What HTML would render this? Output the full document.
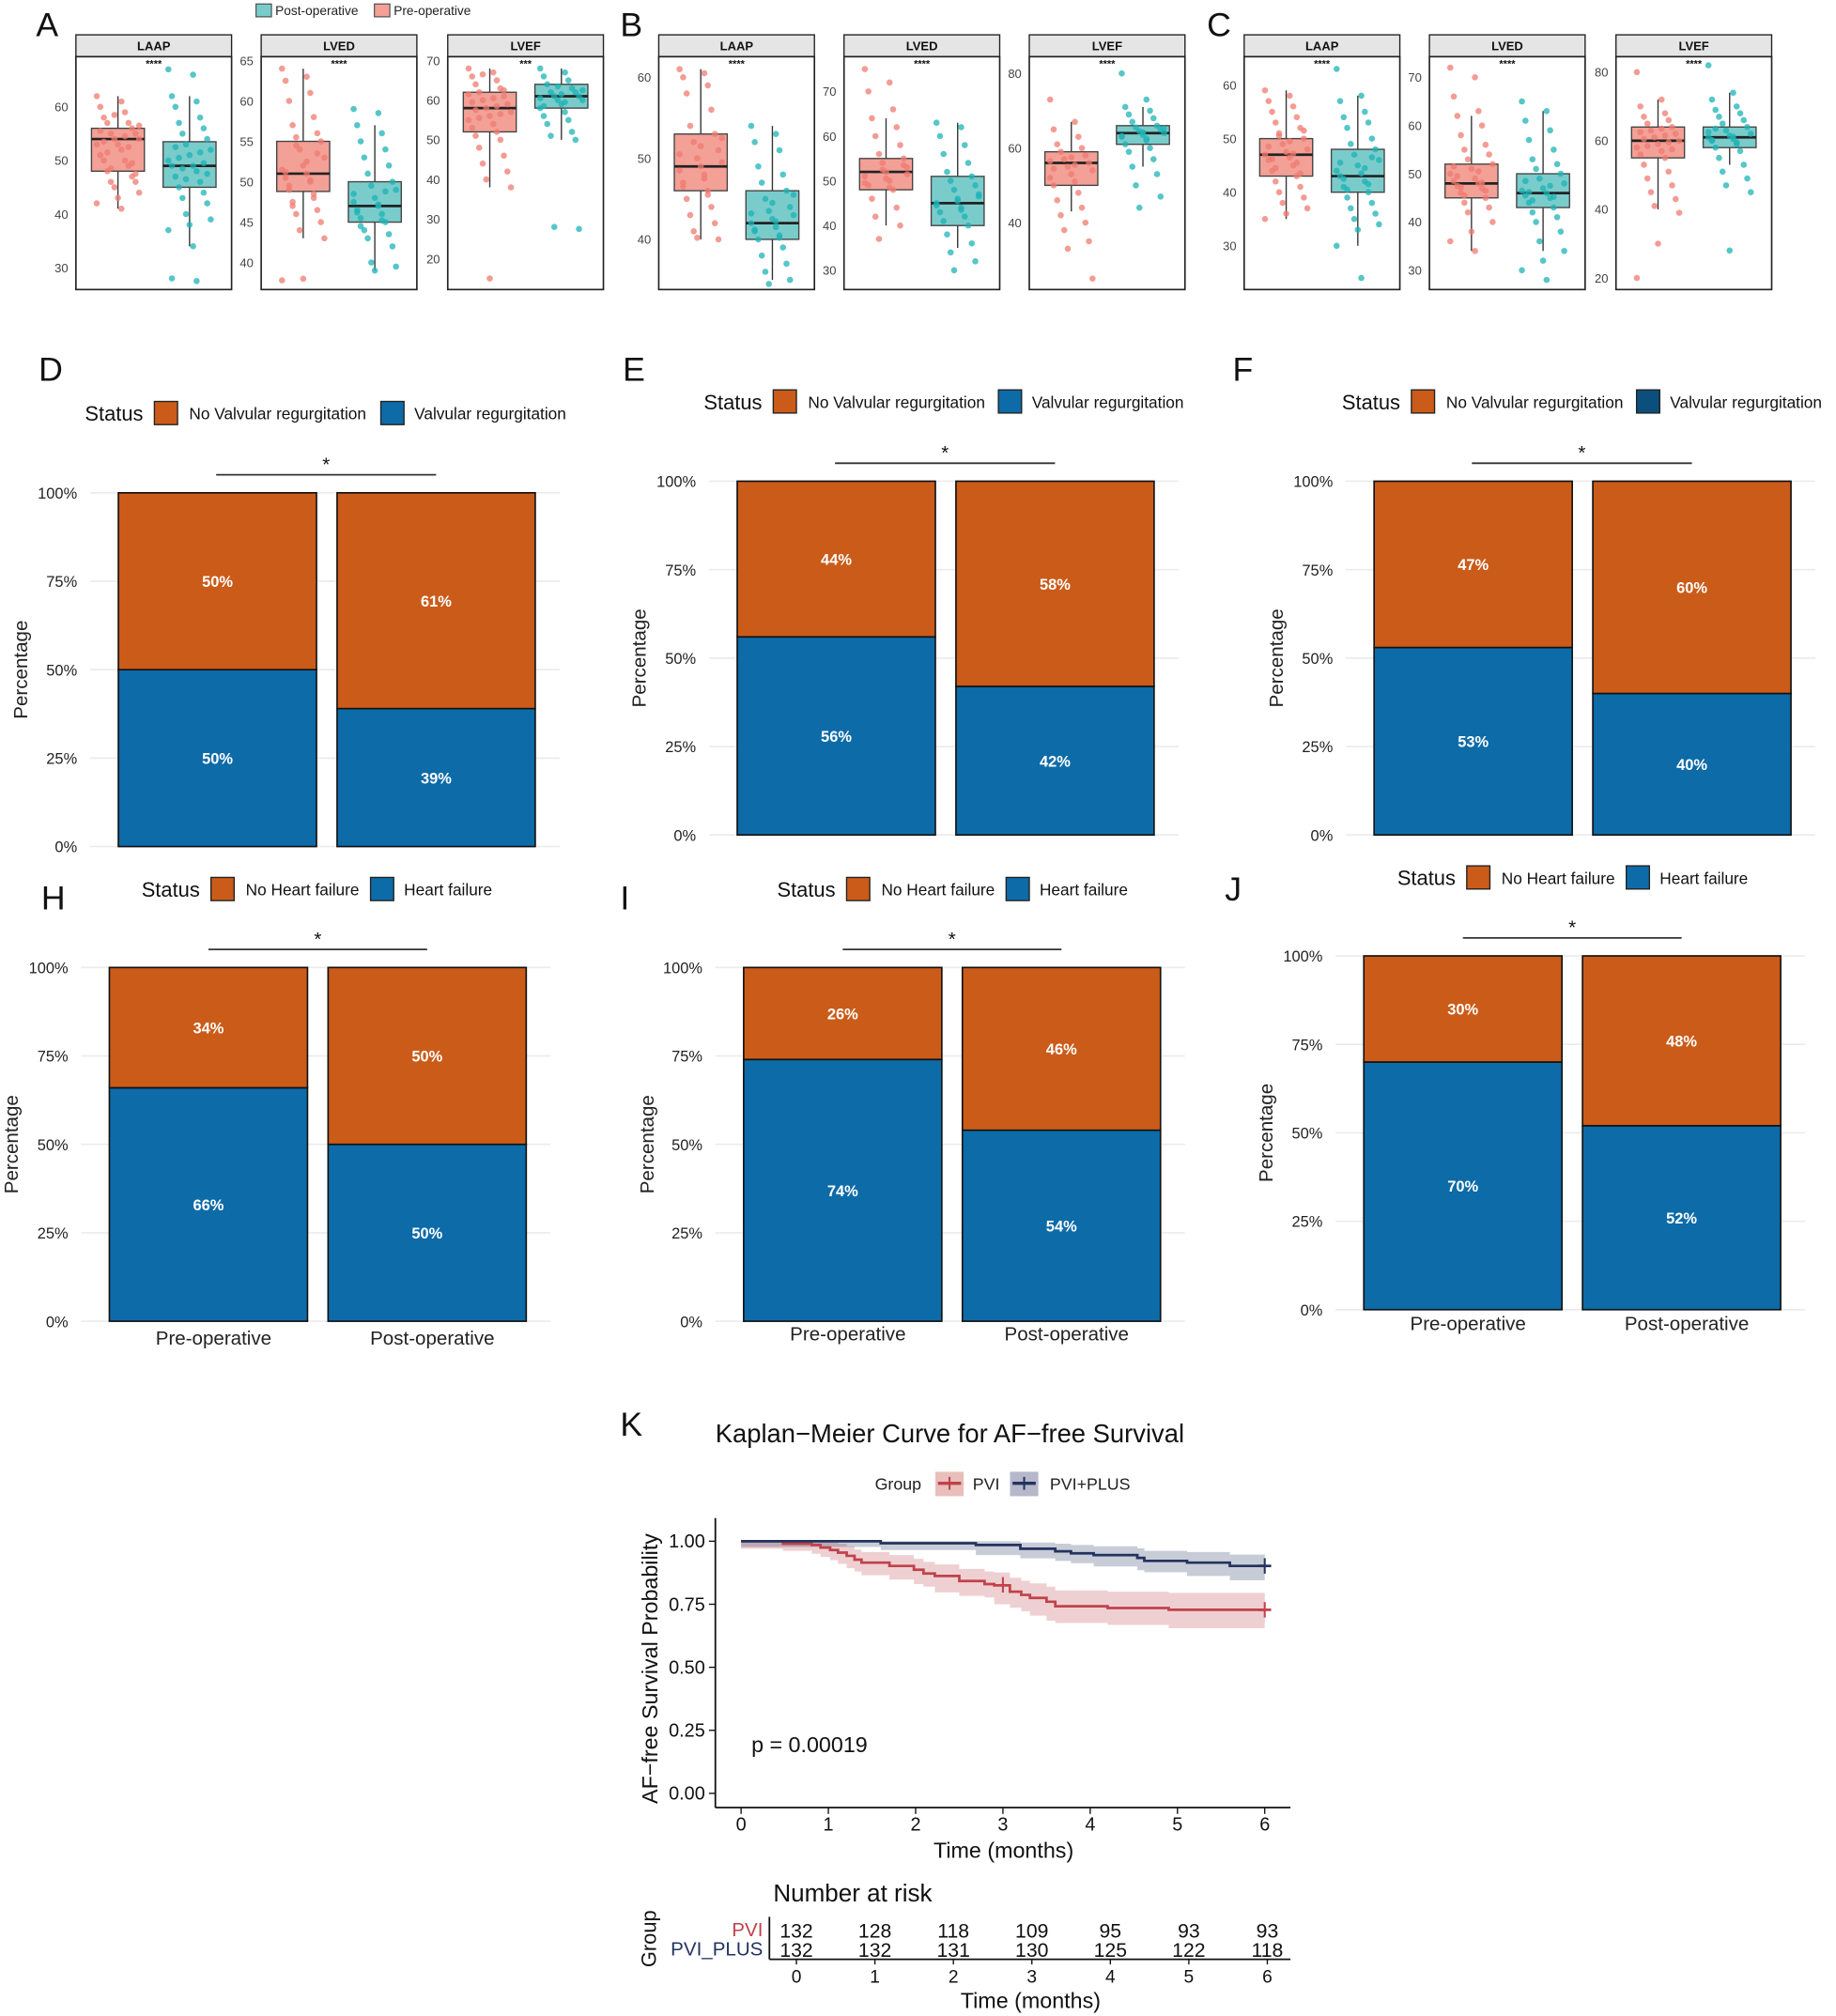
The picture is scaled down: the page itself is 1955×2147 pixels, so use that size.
<!DOCTYPE html>
<html><head><meta charset="utf-8"><style>
html,body{margin:0;padding:0;background:#fff}
svg{display:block;font-family:"Liberation Sans",Arial,sans-serif}
</style></head><body>
<svg id="fig" xmlns="http://www.w3.org/2000/svg" width="1955" height="2147" viewBox="0 0 1427 1567">
<g id="lbls" font-size="26" fill="#111">
<text x="28" y="28">A</text>
<text x="482" y="28">B</text>
<text x="938" y="28">C</text>
<text x="30" y="296">D</text>
<text x="484" y="296">E</text>
<text x="958" y="296">F</text>
<text x="32" y="707">H</text>
<text x="482" y="707">I</text>
<text x="952" y="700">J</text>
<text x="482" y="1116">K</text>
</g>
<g font-size="10" fill="#222">
<rect x="199" y="3" width="12" height="10" fill="#7ACCCB" stroke="#444" stroke-width="0.8"/>
<text x="214" y="11.5">Post-operative</text>
<rect x="291" y="3" width="12" height="10" fill="#F3A097" stroke="#444" stroke-width="0.8"/>
<text x="306" y="11.5">Pre-operative</text>
</g>
</svg>
<script>
// ---------- Box plot data ----------
const boxPanelNames = ["A-LAAP","A-LVED","A-LVEF","B-LAAP","B-LVED","B-LVEF","C-LAAP","C-LVED","C-LVEF"];
const boxTitles = ["LAAP","LVED","LVEF","LAAP","LVED","LVEF","LAAP","LVED","LVEF"];
const boxSig = ["****","****","***","****","****","****","****","****","****"];
const boxTicks = [[30,40,50,60],[40,45,50,55,60,65],[20,30,40,50,60,70],[40,50,60],[30,40,50,60,70],[40,60,80],[30,40,50,60],[30,40,50,60,70],[20,40,60,80]];
// [whiskerLow, q1, median, q3, whiskerHigh]
const preStats = [[41,48,54,56,62],[43,48.8,51,55,64],[38,52,58,62,68],[40,46,49,53,61],[40,48,52,55,64],[43,50,56,59,67],[35,43,47,50,59],[34,45,48,52,62],[40,55,60,64,72]];
const postStats = [[34,45,49,53.5,62],[39,45,47,50,57],[50,58,61,64,68],[35,40,42,46,54],[35,40,45,51,63],[55,61,64,66,71],[30,40,43,48,58],[34,43,46,50,63],[53,58,61,64,74]];
const prePoints = [
[62,61,60,59,58,57,57,56,55,55,54,54,53,53,52,51,50,50,49,48,47,46,46,45,44,43,42,41,55.5,54.5,53.5,52.5,51.5,49.5,48.5,47.5,58.5,56.5],
[64,63,62.5,61,60,58,57,56,55.5,55,54,53,52,51.5,51,50.5,50,49,48,47,46.5,46,45,44,43,38,37.8,52.5,51.2,50.2,49.5,48.5,47.5,53.5,54.5],
[68,67,66,65,64,63,62,61,60,59,58,57,56,55,54,53,52,51,50,48,46,44,42,40,38,15,61.5,60.5,59.5,58.5,57.5,56.5,55.5,62.5,66.5],
[61,60.5,60,59,58,56,54,53,52,51,50,49.5,49,48.5,48,47,46,45,44,43,42,41,40,40.2,52.5,51.5,50.5,47.5,46.5,45.5],
[75,72,70,66,64,62,60,58,56,55,54,53,52,51,50,49,48,46,44,42,40,37,53.5,52.5,51.5,50.5,49.5,48.5],
[73,67,65,63,61,60,59,58,57,56,55,54,53,52,51,50,48,46,44,42,40,38,35,33,25,57.5,56.5,55.5,54.5],
[59,58,57,56,55,54,53,52,51,50,49,48,47.5,47,46.5,46,45,44,43,42,41,40,39,38,37,36,35,49.5,48.5,47.2,46.2,45.5,44.5,43.5,50.5,51.5],
[72,70,66,63,62,60,58,56,55,54,53,52,51,50,49,48.5,48,47.5,47,46,45,44,43,42,40,38,36,34,51.5,50.5,49.5,48.2,47.2,46.5,45.5],
[80,72,70,68,67,66,65,64,63,62,61,60,59,58,57,56,55,53,51,49,47,45,43,41,39,30,20,63.5,62.5,61.5,60.5,59.5,58.5,57.5]];
const postPoints = [
[67,66,62,61,60,58,57,56,55,54,53,52,51,50,49,49,48,47,46,45,44,43,42,40,39,38,37,34,28,27.5,52.5,51.5,50.5,49.5,48.5,47.5,46.5],
[59,58.5,57,56,55,54,53,52,51,50,49.5,49,48,47.5,47,46.5,46,45.5,45,44,43.5,43,42,40,39.5,39,48.5,47.2,46.2,45.2,44.5,48.8],
[68,67,66,65,64,63,62,62,61,61,60,60,59,58,57,56,55,54,52,51,50,28,27.5,63.5,62.5,61.5,60.5,59.5,58.5],
[54,53,52,51,49,48,47,46,45,44,43.5,43,42.5,42,41.5,41,40.5,40,39,38,37,36,35,34.5,45.5,44.5,43.2,42.2,41.2,40.2],
[63,62,60,58,56,54,52,51,50,49,48,47,46,45,44,43,42,41,40,38,36,34,32,30,46.5,45.5,44.5,43.5],
[80,73,71,70,69,68,67,66,65.5,65,64.5,64,63.5,63,62,61,60,59,57,55,53,50,47,44,65.2,64.2,63.2,62.5],
[63,58,57,55,54,53,52,50,49,48,47,46,45,44,43.5,43,42,41,40,39,38,37,36,35,34,33,30,24,45.5,44.5,42.5,41.5,40.5,46.5],
[65,63,61,59,57,55,53,52,51,50,49,48,47,46.5,46,45.5,45,44,43,42,41,40,38,36,34,32,30,28,48.5,47.5,46.2,45.2,44.5],
[82,74,72,70,69,68,67,66,65,64,63,62,61.5,61,60.5,60,59,58,57,55,53,51,49,47,45,28,62.5,61.2,60.2,59.5,63.5]];

// ---------- Stacked bar data ----------
const barPanelNames = ["D","E","F","H","I","J"];
const barCategories = ["Pre-operative","Post-operative"];
const barPositive = [[50,39],[56,42],[53,40],[66,50],[74,54],[70,52]];
const barYTicks = [0,25,50,75,100];
const barLegendPos = ["Valvular regurgitation","Valvular regurgitation","Valvular regurgitation","Heart failure","Heart failure","Heart failure"];
const barLegendNeg = ["No Valvular regurgitation","No Valvular regurgitation","No Valvular regurgitation","No Heart failure","No Heart failure","No Heart failure"];

// ---------- KM data ----------
const kmPviTimes = [0,0.48,0.81,0.91,1.02,1.11,1.21,1.3,1.38,1.7,1.98,2.09,2.22,2.5,2.79,2.9,3.08,3.21,3.31,3.5,3.6,4.2,4.9,6];
const kmPviSurv  = [1,0.99,0.985,0.975,0.965,0.955,0.942,0.927,0.915,0.902,0.887,0.872,0.862,0.842,0.83,0.825,0.80,0.787,0.775,0.76,0.742,0.735,0.728,0.728];
const kmPviLow   = [1,0.97,0.962,0.95,0.938,0.925,0.91,0.893,0.88,0.865,0.848,0.83,0.82,0.797,0.783,0.777,0.75,0.736,0.722,0.705,0.685,0.676,0.668,0.655];
const kmPviHigh  = [1,1,1,1,0.995,0.99,0.98,0.967,0.957,0.945,0.93,0.918,0.908,0.89,0.88,0.876,0.855,0.843,0.833,0.82,0.805,0.8,0.795,0.805];
const kmPlusTimes = [0,1.6,2.69,3.2,3.6,3.78,4.04,4.54,4.62,5.11,5.6,6];
const kmPlusSurv  = [1,0.992,0.985,0.97,0.96,0.952,0.945,0.934,0.922,0.915,0.902,0.902];
const kmPlusLow   = [1,0.977,0.965,0.945,0.932,0.922,0.913,0.9,0.885,0.877,0.862,0.845];
const kmPlusHigh  = [1,1,1,0.995,0.99,0.985,0.98,0.972,0.962,0.957,0.947,0.955];
const kmXTicks = [0,1,2,3,4,5,6];
const kmYTicks = [0,0.25,0.5,0.75,1];
const riskPvi  = [132,128,118,109,95,93,93];
const riskPlus = [132,132,131,130,125,122,118];

const NS="http://www.w3.org/2000/svg";
const svg=document.getElementById('fig');
function mk(tag,attrs,parent,text){const e=document.createElementNS(NS,tag);for(const k in attrs)e.setAttribute(k,attrs[k]);if(text!==undefined)e.textContent=text;(parent||svg).appendChild(e);return e;}

// ---------- Box plots ----------
const boxX0=[59,203,348,512,656,800,967,1111,1256];
const boxW=121;
const boxScale=[[60,83,30,208],[65,47,40,204],[70,47,20,201],[60,60,40,186],[70,71,30,210],[80,57,40,173],[60,66,30,191],[70,60,30,210],[80,56,20,216]];
boxPanelNames.forEach((nm,p)=>{
  const g=mk('g',{});
  
  
  const x0=boxX0[p],top=44,bot=225;
  const s=boxScale[p];const y=v=>s[1]+(v-s[0])*(s[3]-s[1])/(s[2]-s[0]);
  const strip=mk('rect',{x:x0,y:27,width:boxW,height:17,fill:'#E5E5E5',stroke:'#222','stroke-width':1},g);
  
  
  mk('text',{x:x0+boxW/2,y:39,'text-anchor':'middle','font-size':9.5,'font-weight':'bold',fill:'#111'},g,boxTitles[p]);
  mk('rect',{x:x0,y:top,width:boxW,height:bot-top,fill:'#fff',stroke:'#222','stroke-width':1.2},g);
  boxTicks[p].forEach(t=>{mk('text',{x:x0-6,y:y(t)+3.5,'text-anchor':'end','font-size':9.5,fill:'#444'},g,t);});
  mk('text',{x:x0+boxW/2,y:52,'text-anchor':'middle','font-size':8,'font-weight':'bold',fill:'#111'},g,boxSig[p]);
  [[preStats,prePoints,0.27,'#F3A097','#EF7B70'],[postStats,postPoints,0.73,'#7ACCCB','#1DB3B5']].forEach(([st,pts,fc,fill,pc],gi)=>{
    const cx=x0+boxW*fc,bw=boxW*0.34,S=st[p];
    const bg=mk('g',{},g);
    
    
    mk('line',{x1:cx,x2:cx,y1:y(S[0]),y2:y(S[4]),stroke:'#333','stroke-width':1},bg);
    mk('rect',{x:cx-bw/2,y:y(S[3]),width:bw,height:y(S[1])-y(S[3]),fill:fill,stroke:'#444','stroke-width':1},bg);
    mk('line',{x1:cx-bw/2,x2:cx+bw/2,y1:y(S[2]),y2:y(S[2]),stroke:'#222','stroke-width':2},bg);
    pts[p].forEach((v,i)=>{
      const jx=(((i*7)%13)/12-0.5)*bw*0.8;
      mk('circle',{cx:cx+jx,cy:y(v),r:2.4,fill:pc,'fill-opacity':0.75},bg);
    });
  });
});

// ---------- Stacked bars ----------
const barGeo=[
 [92,262,383,658,321,66,120,296,168,339,15,70,435,false,0],
 [573,743,374,649,312,547,601,776,649,820,496,551,916,false,0],
 [1068,1238,374,649,312,1043,1097,1272,1144,1315,991,1046,1411,false,0],
 [85,255,752,1027,691,110,164,288,162,332,8,63,428,true,1045],
 [578,748,752,1027,691,604,658,782,655,825,502,556,921,true,1042],
 [1060,1230,743,1018,682,1086,1140,1264,1137,1307,983,1038,1403,true,1034]];
const ORANGE='#CB5B19',BLUE='#0D6BA8';
barPanelNames.forEach((nm,p)=>{
  const G=barGeo[p];
  const g=mk('g',{});
  
  
  const y=v=>G[3]-(G[3]-G[2])*v/100;
  barYTicks.forEach(t=>{
    mk('line',{x1:G[11],x2:G[12],y1:y(t),y2:y(t),stroke:'#EBEBEB','stroke-width':1.2},g);
    mk('text',{x:G[11]-10,y:y(t)+4.5,'text-anchor':'end','font-size':12,fill:'#222'},g,t+'%');
  });
  const lx=G[10]+6,ly=(G[2]+G[3])/2;
  mk('text',{x:lx,y:ly,'text-anchor':'middle','font-size':15,fill:'#222',transform:`rotate(-90 ${lx} ${ly})`},g,'Percentage');
  const lg=mk('g',{},g);
  
  
  mk('text',{x:G[5],y:G[4]+6,'font-size':16,fill:'#111'},lg,'Status');
  mk('rect',{x:G[6],y:G[4]-9,width:18,height:18,fill:ORANGE,stroke:'#222','stroke-width':1},lg);
  mk('text',{x:G[6]+27,y:G[4]+5,'font-size':12.6,fill:'#111'},lg,barLegendNeg[p]);
  mk('rect',{x:G[7],y:G[4]-9,width:18,height:18,fill:(p===2?'#0B4F7C':BLUE),stroke:'#222','stroke-width':1},lg);
  mk('text',{x:G[7]+26,y:G[4]+5,'font-size':12.6,fill:'#111'},lg,barLegendPos[p]);
  const by=G[2]-14;
  mk('line',{x1:G[8],x2:G[9],y1:by,y2:by,stroke:'#333','stroke-width':1.3},g);
  mk('text',{x:(G[8]+G[9])/2,y:by-3,'text-anchor':'middle','font-size':15,fill:'#111'},g,'*');
  barCategories.forEach((c,i)=>{
    const bx=G[i],bw=154,pos=barPositive[p][i];
    const b1=mk('rect',{x:bx,y:y(pos),width:bw,height:y(0)-y(pos),fill:BLUE,stroke:'#111','stroke-width':1.2},g);
    
    
    const b2=mk('rect',{x:bx,y:y(100),width:bw,height:y(pos)-y(100),fill:ORANGE,stroke:'#111','stroke-width':1.2},g);
    
    
    mk('text',{x:bx+bw/2,y:y(pos/2)+4.5,'text-anchor':'middle','font-size':12,'font-weight':'bold',fill:'#fff'},g,pos+'%');
    mk('text',{x:bx+bw/2,y:y(pos+(100-pos)/2)+4.5,'text-anchor':'middle','font-size':12,'font-weight':'bold',fill:'#fff'},g,(100-pos)+'%');
    if(G[13]) mk('text',{x:bx+bw/2+4,y:G[14],'text-anchor':'middle','font-size':15,fill:'#222'},g,c);
  });
});

// ---------- KM ----------
const km=mk('g',{});


const kx=t=>576+t*(983-576)/6, ky=v=>1394-v*(1394-1198);
mk('text',{x:556,y:1121,'font-size':20,fill:'#111'},km,'Kaplan\u2212Meier Curve for AF\u2212free Survival');
const kl=mk('g',{},km);


mk('text',{x:680,y:1158,'font-size':13,fill:'#222'},kl,'Group');
mk('rect',{x:727,y:1144,width:22,height:19,fill:'#E8BFBB'},kl);
mk('line',{x1:729,x2:747,y1:1153,y2:1153,stroke:'#C0424A','stroke-width':2.5},kl);
mk('line',{x1:738,x2:738,y1:1148,y2:1158,stroke:'#C0424A','stroke-width':1.5},kl);
mk('text',{x:756,y:1158,'font-size':13,fill:'#222'},kl,'PVI');
mk('rect',{x:785,y:1144,width:22,height:19,fill:'#B7B7CC'},kl);
mk('line',{x1:787,x2:805,y1:1153,y2:1153,stroke:'#23335F','stroke-width':2.5},kl);
mk('line',{x1:796,x2:796,y1:1148,y2:1158,stroke:'#23335F','stroke-width':1.5},kl);
mk('text',{x:816,y:1158,'font-size':13,fill:'#222'},kl,'PVI+PLUS');
function stepPath(T,S){let d=`M${kx(T[0])},${ky(S[0])}`;for(let i=1;i<T.length;i++){d+=` H${kx(T[i])} V${ky(S[i])}`;}return d;}
function bandPath(T,L,H){let d=`M${kx(T[0])},${ky(H[0])}`;for(let i=1;i<T.length;i++)d+=` H${kx(T[i])} V${ky(H[i])}`;
  for(let i=T.length-1;i>0;i--)d+=` V${ky(L[i])} H${kx(T[i-1])}`;d+=` V${ky(L[0])} Z`;return d;}
const b1=mk('path',{d:bandPath(kmPviTimes,kmPviLow,kmPviHigh),fill:'#C0424A','fill-opacity':0.25},km);


const b2=mk('path',{d:bandPath(kmPlusTimes,kmPlusLow,kmPlusHigh),fill:'#23335F','fill-opacity':0.25},km);


const l1=mk('path',{d:stepPath(kmPviTimes,kmPviSurv),fill:'none',stroke:'#C0424A','stroke-width':2},km);


const l2=mk('path',{d:stepPath(kmPlusTimes,kmPlusSurv),fill:'none',stroke:'#23335F','stroke-width':2},km);


[[kmPviSurv,'#C0424A'],[kmPlusSurv,'#23335F']].forEach(([S,c])=>{const v=S[S.length-1];mk('line',{x1:kx(6),x2:kx(6),y1:ky(v)-6,y2:ky(v)+6,stroke:c,'stroke-width':1.5},km);mk('line',{x1:kx(6)-5,x2:kx(6)+5,y1:ky(v),y2:ky(v),stroke:c,'stroke-width':2},km);});
mk('line',{x1:kx(3),x2:kx(3),y1:ky(0.827)-6,y2:ky(0.827)+6,stroke:'#C0424A','stroke-width':1.5},km);
mk('line',{x1:556,x2:556,y1:1180,y2:1405,stroke:'#111','stroke-width':1.3},km);
mk('line',{x1:556,x2:1003,y1:1405,y2:1405,stroke:'#111','stroke-width':1.3},km);
kmYTicks.forEach(t=>{mk('line',{x1:551,x2:556,y1:ky(t),y2:ky(t),stroke:'#111'},km);mk('text',{x:548,y:ky(t)+5,'text-anchor':'end','font-size':14.5,fill:'#111'},km,t.toFixed(2));});
kmXTicks.forEach(t=>{mk('line',{x1:kx(t),x2:kx(t),y1:1405,y2:1410,stroke:'#111'},km);mk('text',{x:kx(t),y:1423,'text-anchor':'middle','font-size':14.5,fill:'#111'},km,t);});
mk('text',{x:780,y:1444,'text-anchor':'middle','font-size':17,fill:'#111'},km,'Time (months)');
mk('text',{x:511,y:1297,'text-anchor':'middle','font-size':17,fill:'#111',transform:'rotate(-90 511 1297)'},km,'AF\u2212free Survival Probability');
mk('text',{x:584,y:1362,'font-size':17,fill:'#111'},km,'p = 0.00019');
const rt=mk('g',{});


const rx=t=>619+t*(985-619)/6;
mk('text',{x:601,y:1478,'font-size':19,fill:'#111'},rt,'Number at risk');
mk('line',{x1:598,x2:598,y1:1490,y2:1523,stroke:'#111','stroke-width':1.3},rt);
mk('line',{x1:598,x2:1003,y1:1523,y2:1523,stroke:'#111','stroke-width':1.3},rt);
mk('text',{x:593,y:1505,'text-anchor':'end','font-size':15,fill:'#C0424A'},rt,'PVI');
mk('text',{x:593,y:1520,'text-anchor':'end','font-size':15,fill:'#23335F'},rt,'PVI_PLUS');
riskPvi.forEach((v,i)=>mk('text',{x:rx(kmXTicks[i]),y:1506,'text-anchor':'middle','font-size':15.5,fill:'#111'},rt,v));
riskPlus.forEach((v,i)=>mk('text',{x:rx(kmXTicks[i]),y:1521,'text-anchor':'middle','font-size':15.5,fill:'#111'},rt,v));
kmXTicks.forEach(t=>{mk('line',{x1:rx(t),x2:rx(t),y1:1523,y2:1527,stroke:'#111'},rt);mk('text',{x:rx(t),y:1541,'text-anchor':'middle','font-size':14,fill:'#111'},rt,t);});
mk('text',{x:801,y:1561,'text-anchor':'middle','font-size':17,fill:'#111'},rt,'Time (months)');
mk('text',{x:510,y:1507,'text-anchor':'middle','font-size':16,fill:'#111',transform:'rotate(-90 510 1507)'},rt,'Group');
</script>
</body></html>
